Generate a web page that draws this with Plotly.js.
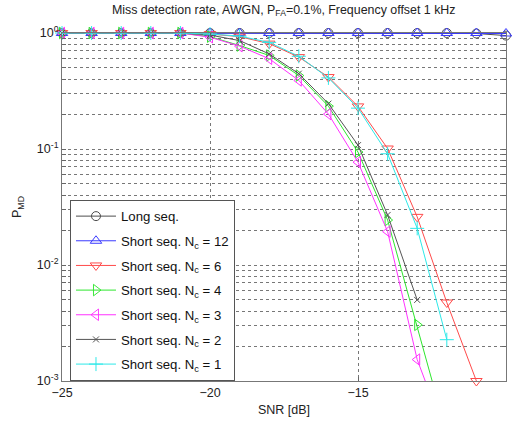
<!DOCTYPE html>
<html>
<head>
<meta charset="utf-8">
<script src="https://cdn.plot.ly/plotly-3.0.1.min.js"></script>
<style>html,body{margin:0;padding:0;background:#fff;}#chart{width:513px;height:423px;}</style>
</head>
<body>
<div id="chart"></div>
<script>
// SNR values [dB]
const snr = [-25,-24,-23,-22,-21,-20,-19,-18,-17,-16,-15,-14,-13,-12,-11,-10];

// Miss detection probabilities
const longSeq = [1,1,1,1,1,1,1,1,1,1,1,1,1,1,0.99,0.95];
const nc12    = [1,1,1,1,1,1,1,1,1,1,1,1,1,1,1,0.99];
const nc6     = [1,1,1,1,1,0.98,0.93,0.81,0.62,0.417,0.233,0.101,0.026,0.00475,0.001];
const nc4     = [1,1,1,1,1,0.93,0.78,0.64,0.43,0.234,0.094,0.0244,0.00305,0.00035];
const nc3     = [1,1,1,1,1,0.92,0.77,0.60,0.39,0.200,0.077,0.0194,0.00153,0.00032];
const nc2     = [1,1,1,1,1,0.96,0.86,0.66,0.446,0.246,0.108,0.027,0.0050];
const nc1     = [1,1,1,1,1,0.98,0.94,0.83,0.63,0.41,0.225,0.091,0.0207,0.00227];

const seriesNames = ['Long seq.','Short seq. N<sub>c</sub> = 12','Short seq. N<sub>c</sub> = 6',
  'Short seq. N<sub>c</sub> = 4','Short seq. N<sub>c</sub> = 3','Short seq. N<sub>c</sub> = 2','Short seq. N<sub>c</sub> = 1'];

// y tick labels (decades)
const decades = [-3,-2,-1,0];

const yTickVals = [], yTickText = [];
decades.forEach(e => {
  for (let m = 1; m <= 9; m++) {
    const v = m * Math.pow(10, e);
    if (v > 1.0000001) break;
    yTickVals.push(v);
    yTickText.push(m === 1 ? '10<sup>' + e + '</sup>' : '');
  }
});

const styles = [
  {color:'#4d4d4d', symbol:'circle-open', size:9},
  {color:'#3a3aff', symbol:'triangle-up-open', size:10},
  {color:'#ff4a4a', symbol:'triangle-down-open', size:10},
  {color:'#2ee62e', symbol:'triangle-right-open', size:10},
  {color:'#ff33ff', symbol:'triangle-left-open', size:10},
  {color:'#555555', symbol:'x-thin-open', size:6},
  {color:'#2ee8e8', symbol:'cross-thin-open', size:10}
];
const data = [longSeq, nc12, nc6, nc4, nc3, nc2, nc1];

const traces = data.map((ys, i) => ({
  x: snr.slice(0, ys.length),
  y: ys,
  type: 'scatter',
  mode: 'lines+markers',
  name: seriesNames[i],
  legendgroup: 'g' + i,
  cliponaxis: false,
  line: {color: styles[i].color, width: 1},
  marker: {
    symbol: styles[i].symbol,
    size: styles[i].size,
    color: styles[i].color,
    opacity: ys.map(v => v >= 0.00099 ? 1 : 0),
    line: {color: styles[i].color, width: 1}
  }
}));

const layout = {
  width: 513, height: 423,
  margin: {l: 62, r: 7, t: 32.5, b: 41.5},
  paper_bgcolor: '#ffffff',
  plot_bgcolor: '#ffffff',
  font: {family: 'Liberation Sans, Arial, sans-serif', size: 12, color: '#222'},
  title: {
    text: 'Miss detection rate, AWGN, P<sub>FA</sub>=0.1%, Frequency offset 1 kHz',
    font: {size: 12.4, color: '#222'},
    x: 0.553, xanchor: 'center',
    y: 0.978, yanchor: 'middle'
  },
  showlegend: true,
  legend: {
    x: 0.018, y: 0.52, xanchor: 'left', yanchor: 'top',
    bgcolor: '#ffffff', bordercolor: '#555', borderwidth: 1,
    font: {size: 13.2, color: '#111'},
    itemwidth: 40,
    traceorder: 'grouped',
    tracegroupgap: 4.5
  },
  xaxis: {
    range: [-25, -10],
    tickvals: [-25, -20, -15, -10],
    ticks: 'inside', ticklen: 4, tickcolor: '#666',
    showgrid: true, gridcolor: '#777', griddash: 'dot', gridwidth: 1,
    showline: true, linecolor: '#777', linewidth: 1, mirror: 'ticks',
    zeroline: false,
    tickfont: {size: 12.5, color: '#222'},
    title: {text: 'SNR [dB]', font: {size: 12.5, color: '#222'}, standoff: 6}
  },
  yaxis: {
    type: 'log',
    range: [-3, 0],
    tickmode: 'array',
    tickvals: yTickVals,
    ticktext: yTickText,
    ticks: 'inside', ticklen: 4, tickcolor: '#666',
    showgrid: true, gridcolor: '#777', griddash: 'dot', gridwidth: 1,
    showline: true, linecolor: '#777', linewidth: 1, mirror: 'ticks',
    zeroline: false,
    tickfont: {size: 12.5, color: '#222'},
    title: {text: 'P<sub>MD</sub>', font: {size: 12.5, color: '#222'}, standoff: 12}
  }
};

Plotly.newPlot('chart', traces, layout, {displayModeBar: false, staticPlot: true});
</script>
</body>
</html>
